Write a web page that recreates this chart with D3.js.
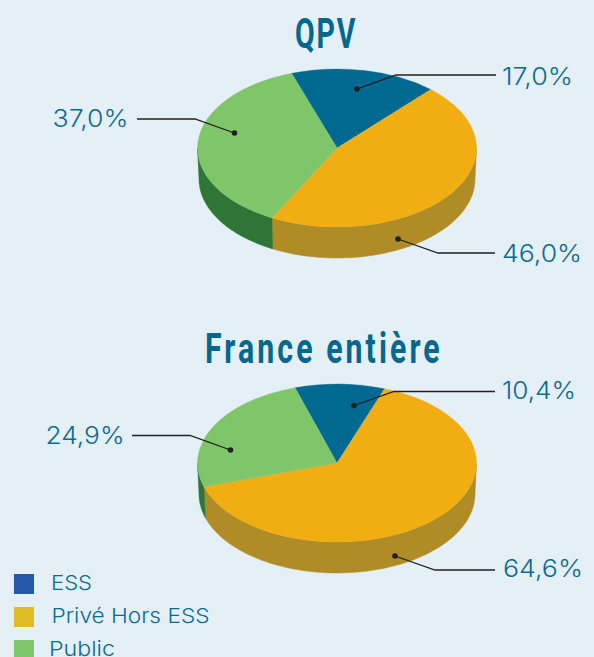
<!DOCTYPE html>
<html><head><meta charset="utf-8">
<script src="https://cdn.jsdelivr.net/npm/d3@7"></script>
<style>html,body{margin:0;padding:0;background:#e4f0f6;overflow:hidden}svg{display:block}</style>
</head><body><svg id="c" width="594" height="657"></svg>
<script>
const categories = ["ESS", "Privé Hors ESS", "Public"];
const titles = ["QPV", "France entière"];
const qpvValues = [17.0, 46.0, 37.0];
const franceValues = [10.4, 64.6, 24.9];
const qpvLabels = ["17,0%", "46,0%", "37,0%"];
const franceLabels = ["10,4%", "64,6%", "24,9%"];

const topColors = ["#006991", "#f0ae13", "#7fc66b"];
const sideColors = ["#004f6e", "#b08c27", "#2f7536"];
const legendColors = ["#2359a8", "#e1bb24", "#7fc66b"];
const textColor = "#0b6b92";
const inkColor = "#231f20";

const rx = 139.5, ry = 79, depth = 31, sideRx = 138;
const pies = [
  { title: titles[0], titleX: 295, titleY: 48, titleSx: 0.68, titleSpacing: 2.6, values: qpvValues, labels: qpvLabels,
    cx: 337, cy: 148, start: -19,
    callouts: [
      { dot:[357,89],   elbow:[396,75],   end:[496,75],   tx:502, ty:85,  w:71 },
      { dot:[398,239],  elbow:[438,253],  end:[495,253],  tx:502, ty:262, w:80 },
      { dot:[234.5,133],elbow:[195,119],  end:[137,119],  tx:52.5, ty:127, w:76 }
    ]},
  { title: titles[1], titleX: 205, titleY: 363, titleSx: 0.72, titleSpacing: 4.3, values: franceValues, labels: franceLabels,
    cx: 337, cy: 463, start: -17.5,
    callouts: [
      { dot:[354,405.5],elbow:[394,391.5],end:[495,391.5],tx:502, ty:399, w:74 },
      { dot:[395,556],  elbow:[435,570],  end:[495,570],  tx:503, ty:577, w:80 },
      { dot:[230.5,450],elbow:[190,435.5],end:[132,435.5],tx:45.5, ty:444, w:79 }
    ]}
];

const svg = d3.select("#c");
const numFont = "Inter, 'Open Sans', sans-serif";
const titleFont = "Roboto, sans-serif";
const rad = d => d * Math.PI / 180;
const line = d3.line();

pies.forEach(p => {
  const total = d3.sum(p.values);
  const arcs = d3.pie().sort(null)
    .startAngle(rad(p.start))
    .endAngle(rad(p.start) + 2 * Math.PI * total / 100)(p.values);
  // Close the small rounding gap (99.9%) so the disc stays whole
  arcs[arcs.length - 1].endAngle = rad(p.start) + 2 * Math.PI;

  const g = svg.append("g");

  // extruded front wall: visible only for the lower half of the ellipse
  const sideGroup = g.append("g");
  arcs.forEach(a => {
    const pts = [];
    [[a.startAngle, a.endAngle], [a.startAngle + 2*Math.PI, a.endAngle + 2*Math.PI]].forEach(([s0, e0]) => {
      const s = Math.max(s0, Math.PI / 2), e = Math.min(e0, 3 * Math.PI / 2);
      if (e <= s) return;
      const n = 60;
      const top = d3.range(n + 1).map(i => s + (e - s) * i / n);
      const upper = top.map(t => [p.cx + rx * Math.sin(t), p.cy - ry * Math.cos(t)]);
      const lower = top.slice().reverse().map(t => [p.cx + sideRx * Math.sin(t), p.cy + depth - ry * Math.cos(t)]);
      pts.push(upper.concat(lower));
    });
    pts.forEach(poly => sideGroup.append("path")
      .attr("d", line(poly) + "Z")
      .attr("fill", sideColors[a.index])
      .attr("stroke", sideColors[a.index]).attr("stroke-width", 0.5));
  });

  // top face
  const arcGen = d3.arc().innerRadius(0).outerRadius(rx);
  g.append("g")
    .attr("transform", `translate(${p.cx},${p.cy}) scale(1,${ry / rx})`)
    .selectAll("path").data(arcs).join("path")
    .attr("d", arcGen)
    .attr("fill", d => topColors[d.index])
    .attr("stroke", d => topColors[d.index]).attr("stroke-width", 0.4);

  // title
  svg.append("text").text(p.title)
    .attr("transform", `translate(${p.titleX},${p.titleY}) scale(${p.titleSx},1)`)
    .attr("letter-spacing", p.titleSpacing)
    .attr("font-family", titleFont).attr("font-weight", 700).attr("font-size", 42)
    .attr("fill", "#00688f");

  // callouts
  p.callouts.forEach((c, i) => {
    svg.append("path").attr("d", line([c.dot, c.elbow, c.end]))
      .attr("fill", "none").attr("stroke", inkColor).attr("stroke-width", 1.3);
    svg.append("circle").attr("cx", c.dot[0]).attr("cy", c.dot[1]).attr("r", 2.8).attr("fill", inkColor);
    svg.append("text").text(p.labels[i])
      .attr("x", c.tx).attr("y", c.ty)
      .attr("textLength", c.w).attr("lengthAdjust", "spacingAndGlyphs")
      .attr("font-family", numFont).attr("font-weight", 300).attr("font-size", 24)
      .attr("fill", textColor);
  });
});

// legend
const legendY = d3.scalePoint().domain(categories).range([574, 640]);
const legendTextX = [51, 51.5, 49];
const legendTextW = [41, 158, 66];
const legendBaselines = [590, 622.5, 655.5];
categories.forEach((c, i) => {
  svg.append("rect").attr("x", 14).attr("y", legendY(c)).attr("width", 20).attr("height", 20)
    .attr("fill", legendColors[i]);
  svg.append("text").text(c)
    .attr("x", legendTextX[i]).attr("y", legendBaselines[i])
    .attr("textLength", legendTextW[i]).attr("lengthAdjust", "spacingAndGlyphs")
    .attr("font-family", numFont).attr("font-weight", 350).attr("font-size", 20.5)
    .attr("fill", textColor);
});
</script></body></html>
